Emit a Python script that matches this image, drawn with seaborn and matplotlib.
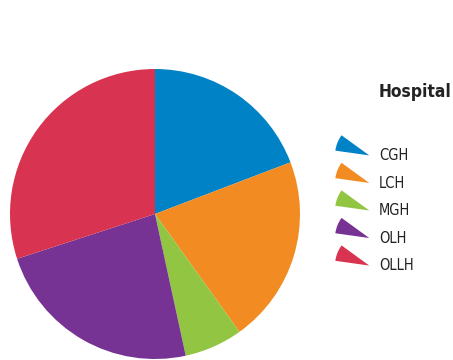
import matplotlib
matplotlib.use("Agg")
import matplotlib.pyplot as plt
import seaborn as sns
from matplotlib.patches import Wedge
from matplotlib.legend_handler import HandlerBase

hospitals = ["CGH", "LCH", "MGH", "OLH", "OLLH"]
shares = [19.2, 20.9, 6.5, 23.4, 30.0]
colors = ["#0082C6", "#F28C22", "#92C642", "#763393", "#D83350"]

sns.set_theme(style="white")
plt.rcParams["font.family"] = ["DejaVu Sans"]
plt.rcParams["font.stretch"] = "condensed"

W, H = 453, 360
fig = plt.figure(figsize=(W / 100, H / 100), dpi=100)
fig.patch.set_facecolor("white")

cx, cy, r = 155, 214, 145
ax = fig.add_axes([(cx - r) / W, (H - cy - r) / H, 2 * r / W, 2 * r / H])
ax.pie(shares, colors=colors, startangle=90, counterclock=False,
       radius=1, wedgeprops=dict(linewidth=0))
ax.set_xlim(-1, 1)
ax.set_ylim(-1, 1)
ax.set_aspect("equal")
ax.axis("off")


class WedgeHandler(HandlerBase):
    """Draws each legend key as a thin pie-slice icon."""
    def create_artists(self, legend, orig_handle, xdescent, ydescent,
                       width, height, fontsize, trans):
        w = Wedge((width - xdescent, -ydescent + 0.45 * height), width,
                  144, 172, facecolor=orig_handle.get_facecolor(),
                  linewidth=0, transform=trans)
        return [w]


handles = [Wedge((0, 0), 1, 0, 30, facecolor=c) for c in colors]
leg = fig.legend(handles, hospitals, loc="upper left",
                 bbox_to_anchor=(335 / W, 1 - 148 / H),
                 frameon=False, fontsize=10.5, handlelength=2.35,
                 handletextpad=0.65, labelspacing=0.86, borderpad=0,
                 borderaxespad=0,
                 handler_map={Wedge: WedgeHandler()})
for t in leg.get_texts():
    t.set_color("#222222")

fig.text(379 / W, 1 - 92 / H, "Hospital", fontsize=12.5, fontweight="bold",
         color="#222222", ha="left", va="center")

fig.savefig("out.png", dpi=100, facecolor="white")
